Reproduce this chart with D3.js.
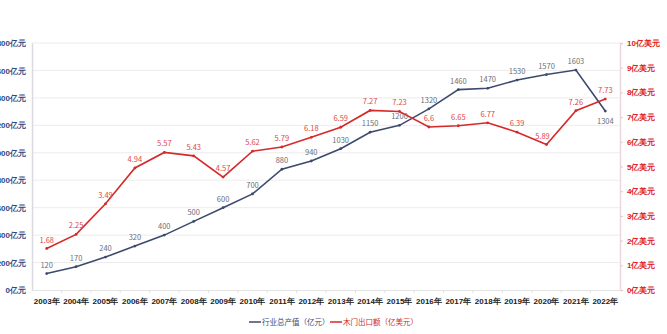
<!DOCTYPE html>
<html>
<head>
<meta charset="utf-8">
<script src="https://cdn.jsdelivr.net/npm/d3@7/dist/d3.min.js"></script>
<style>
  html, body { margin: 0; padding: 0; background: #fff; }
  svg { display: block; font-family: "Noto Sans CJK SC", "Noto Sans", sans-serif; }
</style>
</head>
<body>
<svg id="chart" width="667" height="334"></svg>
<script>
// Years on the x axis
const years = ["2003年","2004年","2005年","2006年","2007年","2008年","2009年","2010年","2011年","2012年",
               "2013年","2014年","2015年","2016年","2017年","2018年","2019年","2020年","2021年","2022年"];
// 行业总产值（亿元）
const outputValues = [120,170,240,320,400,500,600,700,880,940,1030,1150,1200,1320,1460,1470,1530,1570,1603,1304];
// 木门出口额（亿美元）
const exportValues = [1.68,2.25,3.49,4.94,5.57,5.43,4.57,5.62,5.79,6.18,6.59,7.27,7.23,6.6,6.65,6.77,6.39,5.89,7.26,7.73];
// Axis ticks
const leftTicks = [0,200,400,600,800,1000,1200,1400,1600,1800];
const rightTicks = [0,1,2,3,4,5,6,7,8,9,10];
const seriesNames = ["行业总产值（亿元）", "木门出口额（亿美元）"];

const svg = d3.select("#chart");
const plotLeft = 32, plotRight = 620, plotTop = 43, plotBottom = 290;
const navy = "#3d4a6e", red = "#d42a2a";

const x = d3.scaleBand().domain(years).range([plotLeft, plotRight]);
const yL = d3.scaleLinear().domain([0, 1800]).range([plotBottom, plotTop]);
const yR = d3.scaleLinear().domain([0, 10]).range([plotBottom, plotTop]);
const cx = d => x(d) + x.bandwidth() / 2;

// horizontal gridlines
svg.append("g").selectAll("line").data(leftTicks.slice(1)).join("line")
  .attr("x1", plotLeft).attr("x2", plotRight)
  .attr("y1", d => yL(d)).attr("y2", d => yL(d))
  .attr("stroke", "#ececec").attr("stroke-width", 1);

// left axis
const gL = svg.append("g").attr("transform", `translate(${plotLeft},0)`)
  .call(d3.axisLeft(yL).tickValues(leftTicks).tickSize(0).tickPadding(6).tickFormat(d => d + "亿元"));
gL.select(".domain").attr("stroke", "#d9d9e0").attr("stroke-width", 1.5);
gL.selectAll("text").attr("fill", "#2d4a86").attr("font-size", 8).attr("font-weight", "bold");

// right axis
const gR = svg.append("g").attr("transform", `translate(${plotRight},0)`)
  .call(d3.axisRight(yR).tickValues(rightTicks).tickSize(3).tickPadding(4).tickFormat(d => d + "亿美元"));
gR.select(".domain").attr("stroke", "#ead8dc").attr("stroke-width", 1.5);
gR.selectAll(".tick line").attr("stroke", "#e8c8cc");
gR.selectAll("text").attr("fill", "#e02020").attr("font-size", 8).attr("font-weight", "bold");

// bottom axis
const gB = svg.append("g").attr("transform", `translate(0,${plotBottom})`)
  .call(d3.axisBottom(x).tickSize(0).tickPadding(8));
gB.select(".domain").attr("stroke", "#e4e4e4");
gB.selectAll("text").attr("fill", "#222").attr("font-size", 8).attr("font-weight", "bold");
// small separators between categories
gB.append("g").selectAll("line").data(years.slice(1)).join("line")
  .attr("x1", d => x(d)).attr("x2", d => x(d)).attr("y1", 0).attr("y2", 3)
  .attr("stroke", "#e0e0e0");

// series lines
const lineL = d3.line().x((d, i) => cx(years[i])).y(d => yL(d));
const lineR = d3.line().x((d, i) => cx(years[i])).y(d => yR(d));

svg.append("path").datum(outputValues).attr("d", lineL)
  .attr("fill", "none").attr("stroke", navy).attr("stroke-width", 1.6);
svg.append("path").datum(exportValues).attr("d", lineR)
  .attr("fill", "none").attr("stroke", red).attr("stroke-width", 1.6);

svg.append("g").selectAll("circle").data(outputValues).join("circle")
  .attr("cx", (d, i) => cx(years[i])).attr("cy", d => yL(d)).attr("r", 1.4).attr("fill", navy);
svg.append("g").selectAll("circle").data(exportValues).join("circle")
  .attr("cx", (d, i) => cx(years[i])).attr("cy", d => yR(d)).attr("r", 1.4).attr("fill", red);

// value labels
svg.append("g").selectAll("text").data(outputValues).join("text")
  .attr("x", (d, i) => cx(years[i]))
  .attr("y", (d, i) => i === outputValues.length - 1 ? yL(d) + 13 : yL(d) - 6)
  .attr("text-anchor", "middle").attr("font-size", 7.5).attr("fill", "#6b6f7a")
  .text(d => d);
svg.append("g").selectAll("text").data(exportValues).join("text")
  .attr("x", (d, i) => cx(years[i]) + (i === 17 ? -4 : 0))
  .attr("y", (d, i) => yR(d) - 6)
  .attr("text-anchor", "middle").attr("font-size", 7.5).attr("fill", "#e04848")
  .text(d => d);

// legend
const legend = svg.append("g").attr("transform", "translate(0,323)");
const items = [{name: seriesNames[0], color: navy, x: 249}, {name: seriesNames[1], color: red, x: 330}];
items.forEach(it => {
  legend.append("line").attr("x1", it.x).attr("x2", it.x + 12).attr("y1", -1).attr("y2", -1)
    .attr("stroke", it.color).attr("stroke-width", 1.5);
  legend.append("text").attr("x", it.x + 13).attr("y", 2).attr("font-size", 7.5)
    .attr("fill", it.color).text(it.name);
});
</script>
</body>
</html>
